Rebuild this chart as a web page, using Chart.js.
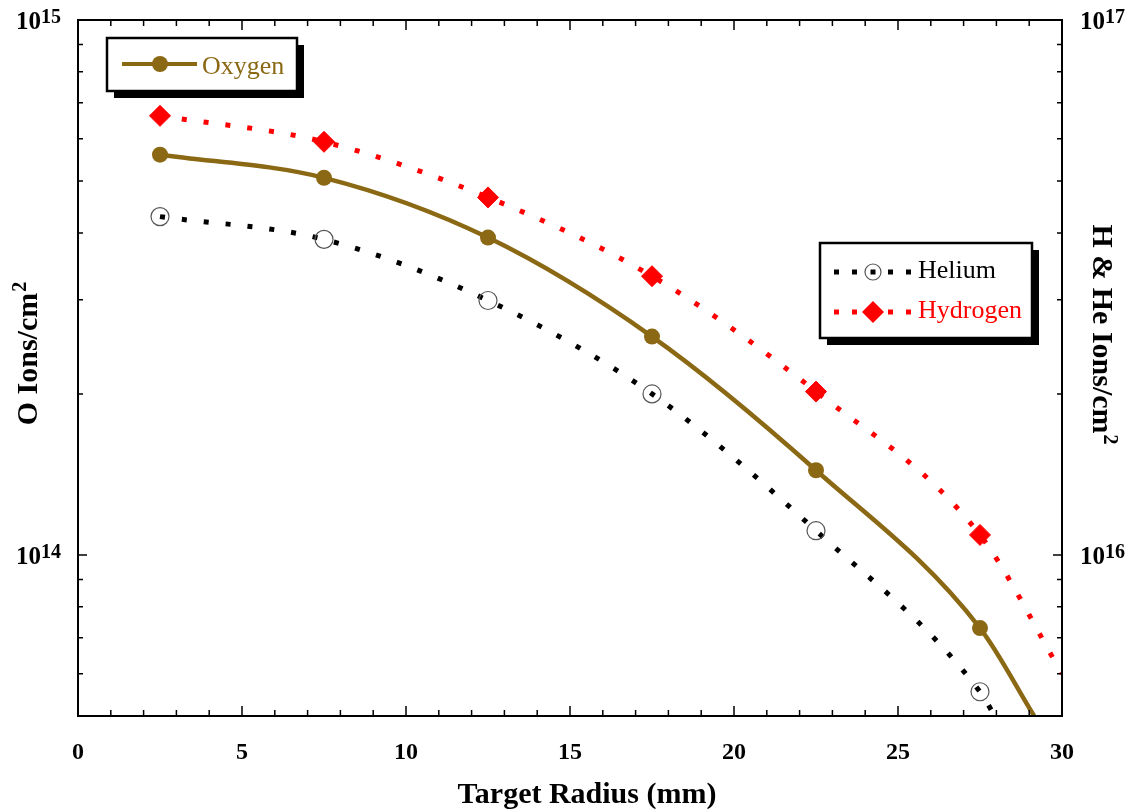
<!DOCTYPE html>
<html>
<head>
<meta charset="utf-8">
<title>Ion fluence vs target radius</title>
<script src="https://cdn.jsdelivr.net/npm/chart.js@4.4.1/dist/chart.umd.min.js"></script>
<style>
  html, body { margin: 0; padding: 0; background: #fff; }
  #wrap { width: 1137px; height: 812px; position: relative; }
</style>
</head>
<body>
<div id="wrap"><canvas id="fluence"></canvas></div>
<script>
/* measured fluence per target radius */
var radius = [2.5, 7.5, 12.5, 17.5, 22.5, 27.5];
var oxygen = [5.6e14, 5.07e14, 3.92e14, 2.56e14, 1.44e14, 7.3e13];
var helium = [4.29e16, 3.89e16, 2.99e16, 2.0e16, 1.11e16, 5.55e15];
var hydrogen = [6.62e16, 5.92e16, 4.66e16, 3.32e16, 2.02e16, 1.09e16];

/* where each fitted curve runs out of the frame */
var fitEndRadius = { oxygen: 29.15, helium: 27.95, hydrogen: 30 };
var fitEndValue = { oxygen: 5e13, helium: 5e15, hydrogen: 6.0e15 };

var radiusTicks = [0, 5, 10, 15, 20, 25, 30];
var leftExponents = [14, 15];
var rightExponents = [16, 17];

var oxygenColor = '#8B6914';
var serif = "'Liberation Serif', 'Times New Roman', serif";

function curve(values, endX, endY) {
    var pts = radius.map(function (r, i) { return { x: r, y: values[i] }; });
    pts.push({ x: endX, y: endY });
    return pts;
}

function markerSizes(size) {
    var s = radius.map(function () { return size; });
    s.push(0);
    return s;
}

function logTicks(scale) {
    var out = [];
    var lo = Math.floor(Math.log10(scale.min)), hi = Math.ceil(Math.log10(scale.max));
    for (var e = lo; e <= hi; e++) {
        for (var m = 1; m <= 9; m++) {
            var v = m * Math.pow(10, e);
            if (v >= scale.min * 0.999 && v <= scale.max * 1.001) out.push({ v: v, major: m === 1 });
        }
    }
    return out;
}

function power(ctx, x, y, exp, align) {
    ctx.font = 'bold 25px ' + serif;
    var wBase = ctx.measureText('10').width;
    ctx.font = 'bold 20px ' + serif;
    var wExp = ctx.measureText(String(exp)).width;
    var left = align === 'right' ? x - wBase - wExp : x;
    ctx.textAlign = 'left';
    ctx.textBaseline = 'alphabetic';
    ctx.font = 'bold 25px ' + serif;
    ctx.fillText('10', left, y + 9);
    ctx.font = 'bold 20px ' + serif;
    ctx.fillText(String(exp), left + wBase, y + 3);
}

// title with a squared unit on the end, drawn centred on (0,0) of the current transform
function unitTitle(ctx, text) {
    ctx.font = 'bold 30px ' + serif;
    var w1 = ctx.measureText(text).width;
    ctx.font = 'bold 20px ' + serif;
    var w2 = ctx.measureText('2').width;
    var start = -(w1 + w2) / 2;
    ctx.textAlign = 'left';
    ctx.textBaseline = 'alphabetic';
    ctx.font = 'bold 30px ' + serif;
    ctx.fillText(text, start, 0);
    ctx.font = 'bold 20px ' + serif;
    ctx.fillText('2', start + w1 + 1, -11);
}

function legendBox(ctx, x, y, w, h) {
    ctx.fillStyle = '#000';
    ctx.fillRect(x + 7, y + 7, w, h);
    ctx.fillStyle = '#fff';
    ctx.fillRect(x, y, w, h);
    ctx.strokeStyle = '#000';
    ctx.lineWidth = 2.5;
    ctx.strokeRect(x, y, w, h);
}

function dottedSample(ctx, x0, x1, y, color) {
    ctx.save();
    ctx.strokeStyle = color;
    ctx.lineWidth = 5;
    ctx.setLineDash([5, 13]);
    ctx.beginPath();
    ctx.moveTo(x0, y);
    ctx.lineTo(x1, y);
    ctx.stroke();
    ctx.restore();
}

var frame = {
    id: 'frame',
    afterDatasetsDraw: function (chart) {
        var ctx = chart.ctx, a = chart.chartArea;
        var x = chart.scales.x, yO = chart.scales.yO, yH = chart.scales.yH;
        ctx.save();

        // box round the plot
        ctx.strokeStyle = '#000';
        ctx.lineWidth = 2;
        ctx.strokeRect(a.left, a.top, a.right - a.left, a.bottom - a.top);

        // inward ticks on all four sides
        ctx.lineWidth = 1.5;
        ctx.beginPath();
        for (var v = x.min; v <= x.max; v++) {
            var px = x.getPixelForValue(v);
            var len = v % 5 === 0 ? 10 : 6;
            ctx.moveTo(px, a.bottom); ctx.lineTo(px, a.bottom - len);
            ctx.moveTo(px, a.top); ctx.lineTo(px, a.top + len);
        }
        logTicks(yO).forEach(function (t) {
            var py = yO.getPixelForValue(t.v);
            ctx.moveTo(a.left, py); ctx.lineTo(a.left + (t.major ? 9 : 5), py);
        });
        logTicks(yH).forEach(function (t) {
            var py = yH.getPixelForValue(t.v);
            ctx.moveTo(a.right, py); ctx.lineTo(a.right - (t.major ? 9 : 5), py);
        });
        ctx.stroke();

        // decade labels
        ctx.fillStyle = '#000';
        leftExponents.forEach(function (e) {
            power(ctx, 61, yO.getPixelForValue(Math.pow(10, e)), e, 'right');
        });
        rightExponents.forEach(function (e) {
            power(ctx, 1080, yH.getPixelForValue(Math.pow(10, e)), e, 'left');
        });

        // axis titles
        ctx.font = 'bold 30px ' + serif;
        ctx.textAlign = 'center';
        ctx.textBaseline = 'alphabetic';
        ctx.fillText('Target Radius (mm)', 587, 803);

        ctx.save();
        ctx.translate(37, 354);
        ctx.rotate(-Math.PI / 2);
        unitTitle(ctx, 'O Ions/cm');
        ctx.restore();

        ctx.save();
        ctx.translate(1093, 334);
        ctx.rotate(Math.PI / 2);
        unitTitle(ctx, 'H & He Ions/cm');
        ctx.restore();

        // legends
        legendBox(ctx, 107, 38, 190, 53);
        ctx.strokeStyle = oxygenColor;
        ctx.lineWidth = 4;
        ctx.beginPath();
        ctx.moveTo(122, 64); ctx.lineTo(197, 64);
        ctx.stroke();
        ctx.fillStyle = oxygenColor;
        ctx.beginPath();
        ctx.arc(160, 64, 8, 0, Math.PI * 2);
        ctx.fill();
        ctx.font = '26px ' + serif;
        ctx.textAlign = 'left';
        ctx.fillText('Oxygen', 202, 74);

        legendBox(ctx, 820, 243, 212, 95);
        dottedSample(ctx, 834, 911, 272, '#000');
        ctx.strokeStyle = '#555';
        ctx.lineWidth = 1.2;
        ctx.fillStyle = '#fff';
        ctx.beginPath();
        ctx.arc(873, 272, 8, 0, Math.PI * 2);
        ctx.fill();
        ctx.stroke();
        ctx.fillStyle = '#000';
        ctx.fillRect(870.5, 269.5, 5, 5);
        ctx.fillText('Helium', 918, 278);

        dottedSample(ctx, 834, 911, 312, '#f00');
        ctx.fillStyle = '#f00';
        ctx.beginPath();
        ctx.moveTo(873, 301); ctx.lineTo(884, 312); ctx.lineTo(873, 323); ctx.lineTo(862, 312);
        ctx.closePath();
        ctx.fill();
        ctx.fillText('Hydrogen', 918, 318);

        ctx.restore();
    }
};

var ctx = document.getElementById('fluence').getContext('2d');
var chart = new Chart(ctx, {
    type: 'line',
    data: {
        datasets: [{
            label: 'Oxygen',
            data: curve(oxygen, fitEndRadius.oxygen, fitEndValue.oxygen),
            yAxisID: 'yO',
            borderColor: oxygenColor,
            borderWidth: 4.5,
            cubicInterpolationMode: 'monotone',
            pointRadius: markerSizes(8),
            pointBackgroundColor: oxygenColor,
            pointBorderWidth: 0
        }, {
            label: 'Helium',
            data: curve(helium, fitEndRadius.helium, fitEndValue.helium),
            yAxisID: 'yH',
            borderColor: '#000',
            borderWidth: 5,
            borderDash: [5, 17],
            cubicInterpolationMode: 'monotone',
            pointStyle: 'circle',
            pointRadius: markerSizes(9),
            pointBackgroundColor: 'rgba(0,0,0,0)',
            pointBorderColor: '#555',
            pointBorderWidth: 1.2
        }, {
            label: 'Hydrogen',
            data: curve(hydrogen, fitEndRadius.hydrogen, fitEndValue.hydrogen),
            yAxisID: 'yH',
            borderColor: '#f00',
            borderWidth: 5,
            borderDash: [5, 17],
            cubicInterpolationMode: 'monotone',
            pointStyle: 'rectRot',
            pointRadius: markerSizes(10.5),
            pointBackgroundColor: '#f00',
            pointBorderColor: '#f00',
            pointBorderWidth: 1
        }]
    },
    options: {
        responsive: true,
        maintainAspectRatio: false,
        animation: false,
        layout: { padding: { top: 20 } },
        plugins: {
            legend: { display: false },
            tooltip: { enabled: false }
        },
        scales: {
            x: {
                type: 'linear',
                min: 0,
                max: 30,
                afterBuildTicks: function (s) {
                    s.ticks = radiusTicks.map(function (v) { return { value: v }; });
                },
                ticks: {
                    color: '#000',
                    padding: 22,
                    maxRotation: 0,
                    font: { family: serif, size: 24, weight: 'bold' }
                },
                grid: { display: false, drawTicks: false },
                border: { display: false },
                afterFit: function (s) { s.height = 96; }
            },
            yO: {
                type: 'logarithmic',
                position: 'left',
                min: 5e13,
                max: 1e15,
                ticks: { display: false },
                grid: { display: false, drawTicks: false },
                border: { display: false },
                afterFit: function (s) { s.width = 78; }
            },
            yH: {
                type: 'logarithmic',
                position: 'right',
                min: 5e15,
                max: 1e17,
                ticks: { display: false },
                grid: { display: false, drawTicks: false },
                border: { display: false },
                afterFit: function (s) { s.width = 75; }
            }
        }
    },
    plugins: [frame]
});
</script>
</body>
</html>
